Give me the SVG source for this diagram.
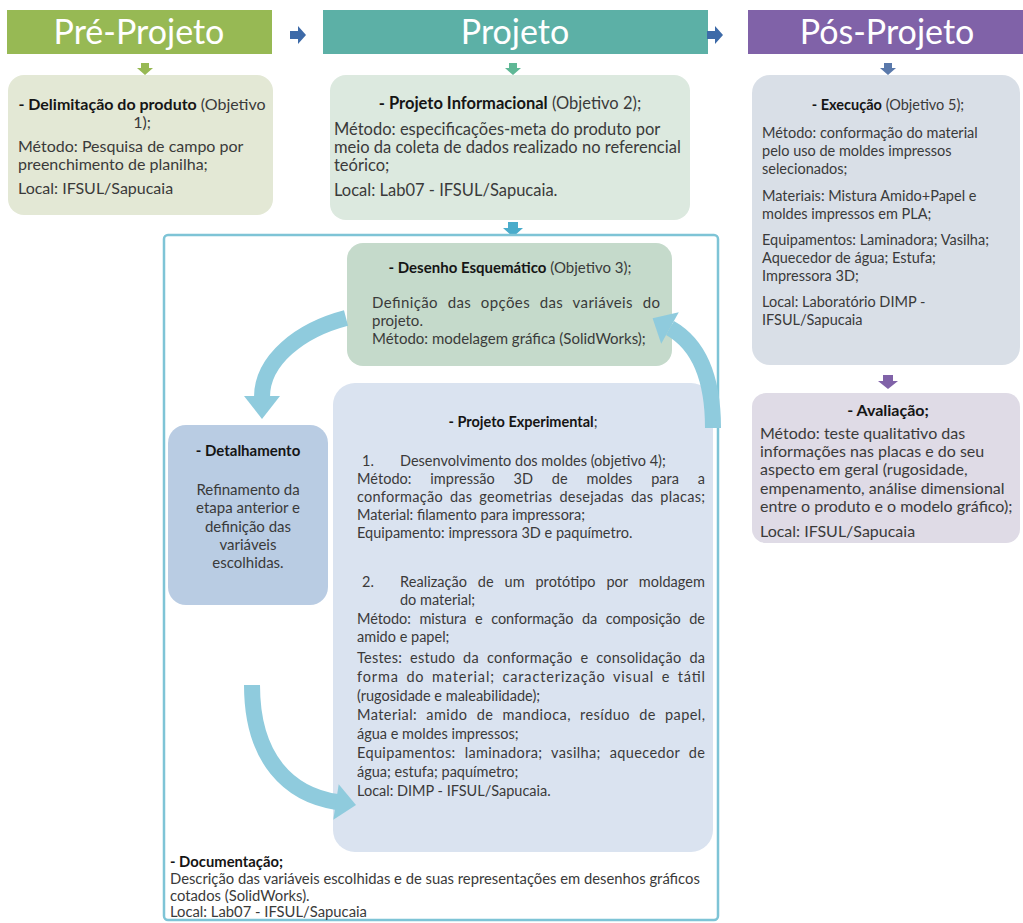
<svg xmlns="http://www.w3.org/2000/svg" width="1023" height="923" viewBox="0 0 1023 923">
  <style>
    .hdr { font-family: Lato, "Liberation Sans", sans-serif; font-size: 34px; fill: #ffffff; text-anchor: middle; }
    .t { font-family: Lato, "Liberation Sans", sans-serif; font-size: 15px; fill: #3a3a3a; }
    .p1 { font-size: 16px; }
    .p2 { font-size: 16.5px; }
    .p5 { font-size: 14.5px; }
    .s { font-family: Lato, "Liberation Sans", sans-serif; font-size: 14.5px; fill: #3a3a3a; }
    .d { font-family: Lato, "Liberation Sans", sans-serif; font-size: 14.8px; fill: #3a3a3a; }
    .c { text-anchor: middle; }
    .b { font-weight: bold; fill: #151515; }
    .band { fill: none; stroke: #8fcbdd; stroke-width: 16; }
    .head { fill: #8fcbdd; }
  </style>

  <rect width="1023" height="923" fill="#ffffff"/>

  <!-- phase headers -->
  <g id="hdr-pre">
    <rect x="7" y="10" width="265" height="44" fill="#97b954"/>
    <text class="hdr" x="139" y="44">Pré-Projeto</text>
  </g>
  <g id="hdr-projeto">
    <rect x="323" y="10" width="385" height="44" fill="#5cb0a6"/>
    <text class="hdr" x="515" y="44">Projeto</text>
  </g>
  <g id="hdr-pos">
    <rect x="748" y="10" width="275" height="44" fill="#8062a8"/>
    <text class="hdr" x="887" y="44">Pós-Projeto</text>
  </g>

  <!-- connectors -->
  <g id="connectors">
    <!-- header to header -->
    <path d="M290 31 h8 v-5 l8 9 l-8 9 v-5 h-8 z" fill="#3d6aa8"/>
    <path d="M707 31 h8 v-5 l8 9 l-8 9 v-5 h-8 z" fill="#3d6aa8"/>
    <!-- header to first box -->
    <path d="M141 63 h8 v5 h4 l-8 7 l-8 -7 h4 z" fill="#97b954"/>
    <path d="M509 63 h8 v5 h4 l-8 7 l-8 -7 h4 z" fill="#5fb896"/>
    <path d="M884 63 h8 v5 h4 l-8 7 l-8 -7 h4 z" fill="#5a79ab"/>
    <!-- Execução to Avaliação -->
    <path d="M883 375 h10 v6 h5 l-10 8 l-10 -8 h5 z" fill="#8062a8"/>
    <!-- Projeto Informacional to detail frame -->
    <path d="M508 222 h10 v6 h5 l-10 9 l-10 -9 h5 z" fill="#4aaccb"/>
  </g>

  <!-- Pré-Projeto box -->
  <g id="delimitacao">
    <rect x="8" y="75" width="265" height="140" rx="16" fill="#e3e8d5"/>
    <text class="t p1 c" x="142" y="110"><tspan class="b">- Delimitação do produto</tspan> (Objetivo</text>
    <text class="t p1 c" x="142" y="128">1);</text>
    <text class="t p1" x="18" y="152">Método: Pesquisa de campo por</text>
    <text class="t p1" x="18" y="170">preenchimento de planilha;</text>
    <text class="t p1" x="18" y="194">Local: IFSUL/Sapucaia</text>
  </g>

  <!-- Projeto Informacional box -->
  <g id="informacional">
    <rect x="330" y="75" width="360" height="145" rx="16" fill="#dce9df"/>
    <text class="t p2 c" x="510" y="109"><tspan class="b">- Projeto Informacional</tspan> (Objetivo 2);</text>
    <text class="t p2" x="334" y="135">Método: especificações-meta do produto por</text>
    <text class="t p2" x="334" y="153">meio da coleta de dados realizado no referencial</text>
    <text class="t p2" x="334" y="171">teórico;</text>
    <text class="t p2" x="334" y="196">Local: Lab07 - IFSUL/Sapucaia.</text>
  </g>

  <!-- Execução box -->
  <g id="execucao">
    <rect x="752" y="75" width="268" height="290" rx="18" fill="#d9dfe7"/>
    <text class="t p5 c" x="888" y="110"><tspan class="b">- Execução</tspan> (Objetivo 5);</text>
    <text class="t p5" x="762" y="138">Método: conformação do material</text>
    <text class="t p5" x="762" y="156">pelo uso de moldes impressos</text>
    <text class="t p5" x="762" y="174">selecionados;</text>
    <text class="t p5" x="762" y="201">Materiais: Mistura Amido+Papel e</text>
    <text class="t p5" x="762" y="219">moldes impressos em PLA;</text>
    <text class="t p5" x="762" y="245">Equipamentos: Laminadora; Vasilha;</text>
    <text class="t p5" x="762" y="263">Aquecedor de água; Estufa;</text>
    <text class="t p5" x="762" y="281">Impressora 3D;</text>
    <text class="t p5" x="762" y="307">Local: Laboratório DIMP -</text>
    <text class="t p5" x="762" y="325">IFSUL/Sapucaia</text>
  </g>

  <!-- Avaliação box -->
  <g id="avaliacao">
    <rect x="752" y="393" width="268" height="150" rx="14" fill="#dfdbe6"/>
    <text class="t p1 c b" x="888" y="416">- Avaliação;</text>
    <text class="t p1" x="760" y="439">Método: teste qualitativo das</text>
    <text class="t p1" x="760" y="457">informações nas placas e do seu</text>
    <text class="t p1" x="760" y="475">aspecto em geral (rugosidade,</text>
    <text class="t p1" x="760" y="494">empenamento, análise dimensional</text>
    <text class="t p1" x="760" y="512">entre o produto e o modelo gráfico);</text>
    <text class="t p1" x="760" y="537">Local: IFSUL/Sapucaia</text>
  </g>

  <!-- detail frame -->
  <g id="frame">
    <rect x="164" y="235" width="554" height="685" rx="4" fill="#ffffff" stroke="#7ec4d6" stroke-width="2.5"/>
  </g>

  <!-- Desenho Esquemático -->
  <g id="desenho">
    <rect x="347" y="243" width="325" height="123" rx="16" fill="#c5dacb"/>
    <text class="t c" x="510" y="273"><tspan class="b">- Desenho Esquemático</tspan> (Objetivo 3);</text>
    <text class="t" x="372" y="308" word-spacing="5.5" textLength="288" lengthAdjust="spacing">Definição das opções das variáveis do</text>
    <text class="t" x="372" y="326">projeto.</text>
    <text class="t" x="372" y="344">Método: modelagem gráfica (SolidWorks);</text>
  </g>

  <!-- Projeto Experimental -->
  <g id="experimental">
    <rect x="333" y="383" width="380" height="469" rx="22" fill="#dae3f0"/>
    <text class="s c" x="523" y="427"><tspan class="b">- Projeto Experimental</tspan>;</text>
    <text class="s" x="362" y="466">1.</text>
    <text class="s" x="400" y="466">Desenvolvimento dos moldes (objetivo 4);</text>
    <text class="s" x="357" y="484" word-spacing="15" textLength="348" lengthAdjust="spacing">Método: impressão 3D de moldes para a</text>
    <text class="s" x="357" y="502" word-spacing="3" textLength="348" lengthAdjust="spacing">conformação das geometrias desejadas das placas;</text>
    <text class="s" x="357" y="520">Material: filamento para impressora;</text>
    <text class="s" x="357" y="538">Equipamento: impressora 3D e paquímetro.</text>
    <text class="s" x="362" y="587">2.</text>
    <text class="s" x="400" y="587" word-spacing="7" textLength="305" lengthAdjust="spacing">Realização de um protótipo por moldagem</text>
    <text class="s" x="400" y="605">do material;</text>
    <text class="s" x="357" y="624" word-spacing="5" textLength="348" lengthAdjust="spacing">Método: mistura e conformação da composição de</text>
    <text class="s" x="357" y="642">amido e papel;</text>
    <text class="s" x="357" y="663" word-spacing="4" textLength="348" lengthAdjust="spacing">Testes: estudo da conformação e consolidação da</text>
    <text class="s" x="357" y="682" word-spacing="3" textLength="348" lengthAdjust="spacing">forma do material; caracterização visual e tátil</text>
    <text class="s" x="357" y="701">(rugosidade e maleabilidade);</text>
    <text class="s" x="357" y="720" word-spacing="5" textLength="348" lengthAdjust="spacing">Material: amido de mandioca, resíduo de papel,</text>
    <text class="s" x="357" y="739">água e moldes impressos;</text>
    <text class="s" x="357" y="758" word-spacing="5" textLength="348" lengthAdjust="spacing">Equipamentos: laminadora; vasilha; aquecedor de</text>
    <text class="s" x="357" y="777">água; estufa; paquímetro;</text>
    <text class="s" x="357" y="796">Local: DIMP - IFSUL/Sapucaia.</text>
  </g>

  <!-- Detalhamento -->
  <g id="detalhamento">
    <rect x="168" y="425" width="160" height="180" rx="18" fill="#b9cce3"/>
    <text class="t c b" x="248" y="456">- Detalhamento</text>
    <text class="t c" x="248" y="495">Refinamento da</text>
    <text class="t c" x="248" y="513">etapa anterior e</text>
    <text class="t c" x="248" y="532">definição das</text>
    <text class="t c" x="248" y="550">variáveis</text>
    <text class="t c" x="248" y="568">escolhidas.</text>
  </g>

  <!-- cycle arrows inside the frame -->
  <g id="cycle-arrows">
    <!-- Desenho Esquemático to Detalhamento -->
    <path class="band" d="M346 318 C300 330 262 360 262 397"/>
    <polygon class="head" points="244,396 280,396 262,419"/>
    <!-- Detalhamento to Projeto Experimental -->
    <path class="band" d="M252 685 C252 760 290 795 337 802"/>
    <polygon class="head" points="338.7,784.2 333.3,819.8 356,805"/>
    <!-- Projeto Experimental back to Desenho Esquemático -->
    <path class="band" d="M713 428 C713 380 700 345 670 328"/>
    <polygon class="head" points="678.8,312.3 661.2,343.7 652.6,318.2"/>
  </g>

  <!-- Documentação -->
  <g id="documentacao">
    <text class="d b" x="170" y="867">- Documentação;</text>
    <text class="d" x="170" y="884">Descrição das variáveis escolhidas e de suas representações em desenhos gráficos</text>
    <text class="d" x="170" y="901">cotados (SolidWorks).</text>
    <text class="d" x="170" y="917">Local: Lab07 - IFSUL/Sapucaia</text>
  </g>
</svg>
